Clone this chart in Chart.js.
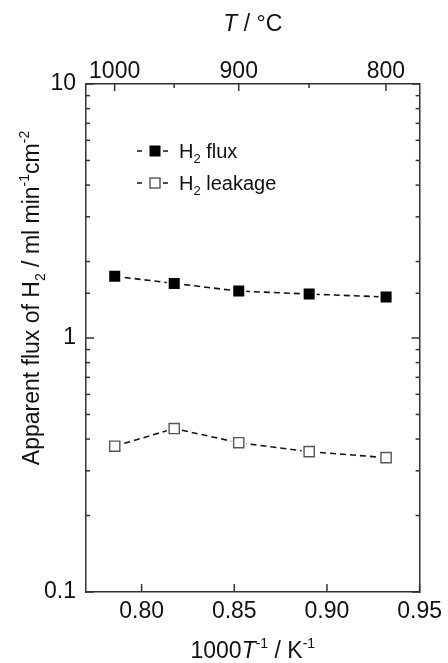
<!DOCTYPE html>
<html><head><meta charset="utf-8">
<script src="https://cdn.jsdelivr.net/npm/chart.js@4.4.1/dist/chart.umd.min.js"></script>
<style>html,body{margin:0;padding:0;background:#fff}canvas{display:block}</style>
</head><body>
<canvas id="c" width="448" height="663"></canvas>
<script>
// ---- data ----
const invT = [0.7855, 0.8176, 0.8524, 0.8904, 0.9319];      // 1000/T (K^-1)
const fluxH2 = [1.75, 1.64, 1.53, 1.49, 1.45];              // H2 flux
const leakH2 = [0.375, 0.44, 0.387, 0.357, 0.338];          // H2 leakage
const xTickLabels = ['0.80', '0.85', '0.90', '0.95'];
const yTickLabels = ['0.1', '1', '10'];
const topTempMajor = [1000, 900, 800];
const topTempMinor = [950, 850];

const FONT = '"Liberation Sans", Arial, sans-serif';
const TXT = '#111';
const AX = '#333';
const FS = 23;

// layout (fixed axis box sizes)
const L = 86, R = 24, T = 84, B = 71;

function drawRich(ctx, segs, x, y, size) {
  const sm = Math.round(size * 0.62);
  const fontFor = s => `${s.it ? 'italic ' : ''}${s.sup || s.sub ? sm : size}px ${FONT}`;
  let w = 0;
  segs.forEach(s => { ctx.font = fontFor(s); w += ctx.measureText(s.t).width; });
  let cx = x - w / 2;
  segs.forEach(s => {
    ctx.font = fontFor(s);
    const dy = s.sup ? -size * 0.42 : (s.sub ? size * 0.25 : 0);
    ctx.fillText(s.t, cx, y + dy);
    cx += ctx.measureText(s.t).width;
  });
}

const decorPlugin = {
  id: 'decor',
  beforeDatasetDraw(chart, args) {
    const ds = chart.data.datasets[args.index];
    if (!ds.halo) return;
    const ctx = chart.ctx;
    ctx.save();
    ctx.fillStyle = '#fff';
    args.meta.data.forEach(p => {
      const h = ds.halo;
      ctx.fillRect(p.x - h, p.y - h, 2 * h, 2 * h);
    });
    ctx.restore();
  },
  afterDraw(chart) {
    const ctx = chart.ctx, a = chart.chartArea, s = chart.scales;
    ctx.save();
    // inward ticks
    ctx.strokeStyle = AX; ctx.lineWidth = 1.5;
    const line = (x1, y1, x2, y2) => { ctx.beginPath(); ctx.moveTo(x1, y1); ctx.lineTo(x2, y2); ctx.stroke(); };
    s.x.ticks.forEach(t => {
      const px = s.x.getPixelForValue(t.value);
      line(px, a.bottom, px, a.bottom - 8);
    });
    s.xTop.ticks.forEach(t => {
      const px = s.xTop.getPixelForValue(t.value);
      line(px, a.top, px, a.top + (t.isMajorTemp ? 7 : 4));
    });
    s.y.ticks.forEach(t => {
      const py = s.y.getPixelForValue(t.value);
      const dec = yTickLabels.includes(String(+t.value.toPrecision(3)));
      const len = dec ? 8 : 4;
      line(a.left, py, a.left + len, py);
      line(a.right, py, a.right - len, py);
    });

    // axis titles
    ctx.fillStyle = TXT;
    ctx.textAlign = 'left';
    ctx.textBaseline = 'alphabetic';
    const cx = (a.left + a.right) / 2;
    drawRich(ctx, [{t: 'T', it: true}, {t: ' / °C'}], cx, 31, FS);
    drawRich(ctx, [{t: '1000'}, {t: 'T', it: true}, {t: '-1', sup: true}, {t: ' / K'}, {t: '-1', sup: true}], cx, 658, FS);
    ctx.save();
    ctx.translate(39, 298);
    ctx.rotate(-Math.PI / 2);
    drawRich(ctx, [{t: 'Apparent flux of H'}, {t: '2', sub: true}, {t: ' / ml min'}, {t: '-1', sup: true}, {t: 'cm'}, {t: '-2', sup: true}], 0, 0, FS);
    ctx.restore();

    // legend
    const rows = [{y: 151, label: 'H', rest: ' flux', filled: true}, {y: 183, label: 'H', rest: ' leakage', filled: false}];
    rows.forEach(r => {
      ctx.lineWidth = 1.6; ctx.strokeStyle = '#222';
      line(137, r.y, 142, r.y);
      line(163, r.y, 168, r.y);
      if (r.filled) {
        ctx.fillStyle = '#000';
        ctx.fillRect(149.5, r.y - 5.5, 11, 11);
      } else {
        ctx.fillStyle = '#fff';
        ctx.strokeStyle = '#555'; ctx.lineWidth = 1.4;
        ctx.fillRect(150, r.y - 5, 10, 10);
        ctx.strokeRect(150, r.y - 5, 10, 10);
      }
      ctx.fillStyle = TXT;
      ctx.font = `20px ${FONT}`;
      let x = 179;
      ctx.fillText(r.label, x, r.y + 7);
      x += ctx.measureText(r.label).width;
      ctx.font = `13px ${FONT}`;
      ctx.fillText('2', x, r.y + 12);
      x += ctx.measureText('2').width;
      ctx.font = `20px ${FONT}`;
      ctx.fillText(r.rest, x, r.y + 7);
    });
    ctx.restore();
  }
};

const fixW = w => sc => { sc.width = w; };
const fixH = h => sc => { sc.height = h; };

new Chart(document.getElementById('c'), {
  type: 'scatter',
  data: {
    datasets: [
      { label: 'H2 flux', data: invT.map((x, i) => ({x, y: fluxH2[i]})), showLine: false,
        pointStyle: 'rect', pointRadius: 7.8, pointBackgroundColor: '#000', pointBorderColor: '#000', pointBorderWidth: 0, halo: 7.5 },
      { label: 'H2 leakage', data: invT.map((x, i) => ({x, y: leakH2[i]})), showLine: false,
        pointStyle: 'rect', pointRadius: 7.2, pointBackgroundColor: '#fff', pointBorderColor: '#555', pointBorderWidth: 1.4, halo: 7.5 },
      { label: 'flux line', data: invT.map((x, i) => ({x, y: fluxH2[i]})), showLine: true, pointRadius: 0,
        borderColor: '#111', borderWidth: 1.6, borderDash: [6, 4], tension: 0 },
      { label: 'leak line', data: invT.map((x, i) => ({x, y: leakH2[i]})), showLine: true, pointRadius: 0,
        borderColor: '#111', borderWidth: 1.6, borderDash: [6, 4], tension: 0 }
    ]
  },
  options: {
    responsive: false,
    animation: false,
    devicePixelRatio: 1,
    layout: { padding: 0 },
    plugins: { legend: { display: false }, tooltip: { enabled: false } },
    scales: {
      x: {
        type: 'linear', position: 'bottom', min: 0.77, max: 0.95,
        afterFit: fixH(B),
        afterBuildTicks: sc => { sc.ticks = xTickLabels.map(v => ({ value: parseFloat(v), label: v })); },
        grid: { display: false, drawTicks: false },
        border: { display: true, color: AX, width: 1.5 },
        ticks: {
          autoSkip: false, maxRotation: 0, padding: 6,
          color: TXT, font: { family: FONT, size: FS },
          callback: (v, i, ticks) => ticks[i].label
        }
      },
      xTop: {
        type: 'linear', position: 'top', min: 0.77, max: 0.95,
        afterFit: fixH(T),
        grid: { display: false, drawTicks: false },
        border: { display: true, color: AX, width: 1.5 },
        afterBuildTicks: sc => {
          const all = topTempMajor.concat(topTempMinor);
          sc.ticks = all.map(t => ({ value: 1000 / (t + 273.15), temp: t, isMajorTemp: topTempMajor.includes(t) }))
                        .sort((p, q) => p.value - q.value);
        },
        ticks: {
          autoSkip: false, maxRotation: 0, padding: -1,
          color: TXT, font: { family: FONT, size: FS },
          callback: (v, i, ticks) => ticks[i].isMajorTemp ? String(ticks[i].temp) : ''
        }
      },
      y: {
        type: 'logarithmic', position: 'left', min: 0.1, max: 10,
        afterFit: fixW(L),
        grid: { display: false, drawTicks: false },
        border: { display: true, color: AX, width: 1.5 },
        ticks: {
          autoSkip: false, padding: 10,
          color: TXT, font: { family: FONT, size: FS },
          callback: v => { const s = String(+(+v).toPrecision(3)); return yTickLabels.includes(s) ? s : ''; }
        }
      },
      yRight: {
        type: 'logarithmic', position: 'right', min: 0.1, max: 10,
        afterFit: fixW(R),
        grid: { display: false, drawTicks: false },
        border: { display: true, color: AX, width: 1.5 },
        ticks: { display: false }
      }
    }
  },
  plugins: [decorPlugin]
});
</script>
</body></html>
